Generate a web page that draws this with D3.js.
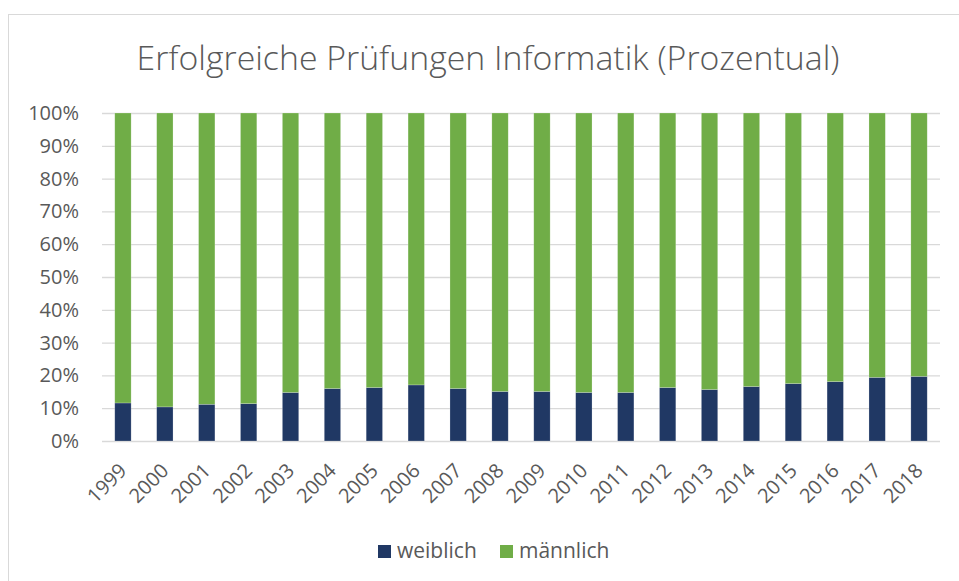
<!DOCTYPE html>
<html>
<head>
<meta charset="utf-8">
<script src="https://cdn.jsdelivr.net/npm/d3@7"></script>
<style>
  body { margin: 0; background: #fff; }
  text { font-family: "Open Sans", sans-serif; fill: #595959; }
</style>
</head>
<body>
<div id="wrapper"></div>
<script>
// chart values
const years = ["1999", "2000", "2001", "2002", "2003", "2004", "2005", "2006", "2007", "2008",
               "2009", "2010", "2011", "2012", "2013", "2014", "2015", "2016", "2017", "2018"]
const weiblich = [11.6, 10.4, 11.2, 11.4, 14.8, 16.0, 16.3, 17.1, 16.0, 15.1,
                  15.1, 14.8, 14.8, 16.3, 15.7, 16.6, 17.5, 18.1, 19.4, 19.7]
const maennlich = [88.4, 89.6, 88.8, 88.6, 85.2, 84.0, 83.7, 82.9, 84.0, 84.9,
                   84.9, 85.2, 85.2, 83.7, 84.3, 83.4, 82.5, 81.9, 80.6, 80.3]
const seriesNames = ["weiblich", "männlich"]
const seriesColors = ["#203864", "#70ad47"]
const yTicks = [0, 10, 20, 30, 40, 50, 60, 70, 80, 90, 100]

function drawChart() {
    const dims = {
        width: 959,
        height: 581,
        margin: { top: 113, right: 19, bottom: 140, left: 102 },
    }
    dims.boundWidth = dims.width - dims.margin.left - dims.margin.right
    dims.boundHeight = dims.height - dims.margin.top - dims.margin.bottom

    const svg = d3.select("#wrapper")
        .append("svg")
            .attr("width", dims.width)
            .attr("height", dims.height)

    // outer chart frame (runs off right and bottom edge)
    svg.append("rect")
        .attr("x", 8.5).attr("y", 14.5)
        .attr("width", 1000).attr("height", 1000)
        .attr("fill", "none")
        .attr("stroke", "#d9d9d9")

    svg.append("text")
        .attr("x", 488).attr("y", 70)
        .attr("text-anchor", "middle")
        .style("font-size", "33.8px")
        .style("font-weight", 300)
        .text("Erfolgreiche Prüfungen Informatik (Prozentual)")

    const bound = svg.append("g")
        .attr("transform", `translate(${dims.margin.left},${dims.margin.top})`)

    // table for the stack
    const table = years.map((y, i) => ({ year: y, "weiblich": weiblich[i], "männlich": maennlich[i] }))
    const stacked = d3.stack().keys(seriesNames).offset(d3.stackOffsetExpand)(table)

    const xScale = d3.scaleBand()
        .domain(years)
        .range([0, dims.boundWidth])
        .paddingInner(0.61)
        .paddingOuter(0.305)

    const yScale = d3.scaleLinear()
        .domain([0, 1])
        .range([dims.boundHeight, 0])

    // gridlines + y labels
    const yAxis = d3.axisLeft(yScale)
        .tickValues(yTicks.map(d => d / 100))
        .tickFormat(d3.format(".0%"))
        .tickSize(-dims.boundWidth)
        .tickPadding(23)
    const yAxisG = bound.append("g").call(yAxis)
    yAxisG.select(".domain").remove()
    yAxisG.selectAll("line").attr("stroke", "#d9d9d9").attr("stroke-width", 1.3)
    yAxisG.selectAll("text").style("font-size", "20px").attr("fill", "#595959")

    // bars
    bound.append("g")
        .selectAll("g")
        .data(stacked)
        .join("g")
            .attr("fill", (d, i) => seriesColors[i])
        .selectAll("rect")
        .data(d => d)
        .join("rect")
            .attr("x", d => xScale(d.data.year))
            .attr("y", d => yScale(d[1]))
            .attr("width", xScale.bandwidth())
            .attr("height", d => yScale(d[0]) - yScale(d[1]))
            .attr("stroke", "#ffffff")
            .attr("stroke-opacity", 0.35)
            .attr("stroke-width", 0.6)

    // x labels, rotated
    const xAxis = d3.axisBottom(xScale).tickSize(0)
    const xAxisG = bound.append("g")
        .attr("transform", `translate(0,${dims.boundHeight})`)
        .call(xAxis)
    xAxisG.select(".domain").remove()
    xAxisG.selectAll("text")
        .attr("y", 0).attr("dy", null)
        .attr("text-anchor", "end")
        .attr("transform", "translate(5,31) rotate(-45)")
        .style("font-size", "20px")
        .attr("fill", "#595959")

    // legend
    const legendX = [378, 500]
    const legend = svg.append("g")
        .selectAll("g")
        .data(seriesNames)
        .join("g")
            .attr("transform", (d, i) => `translate(${legendX[i]},545)`)
    legend.append("rect")
        .attr("width", 13).attr("height", 13)
        .attr("fill", (d, i) => seriesColors[i])
    legend.append("text")
        .attr("x", 19).attr("y", 13)
        .style("font-size", "21px")
        .text(d => d)
}

drawChart()
</script>
</body>
</html>
